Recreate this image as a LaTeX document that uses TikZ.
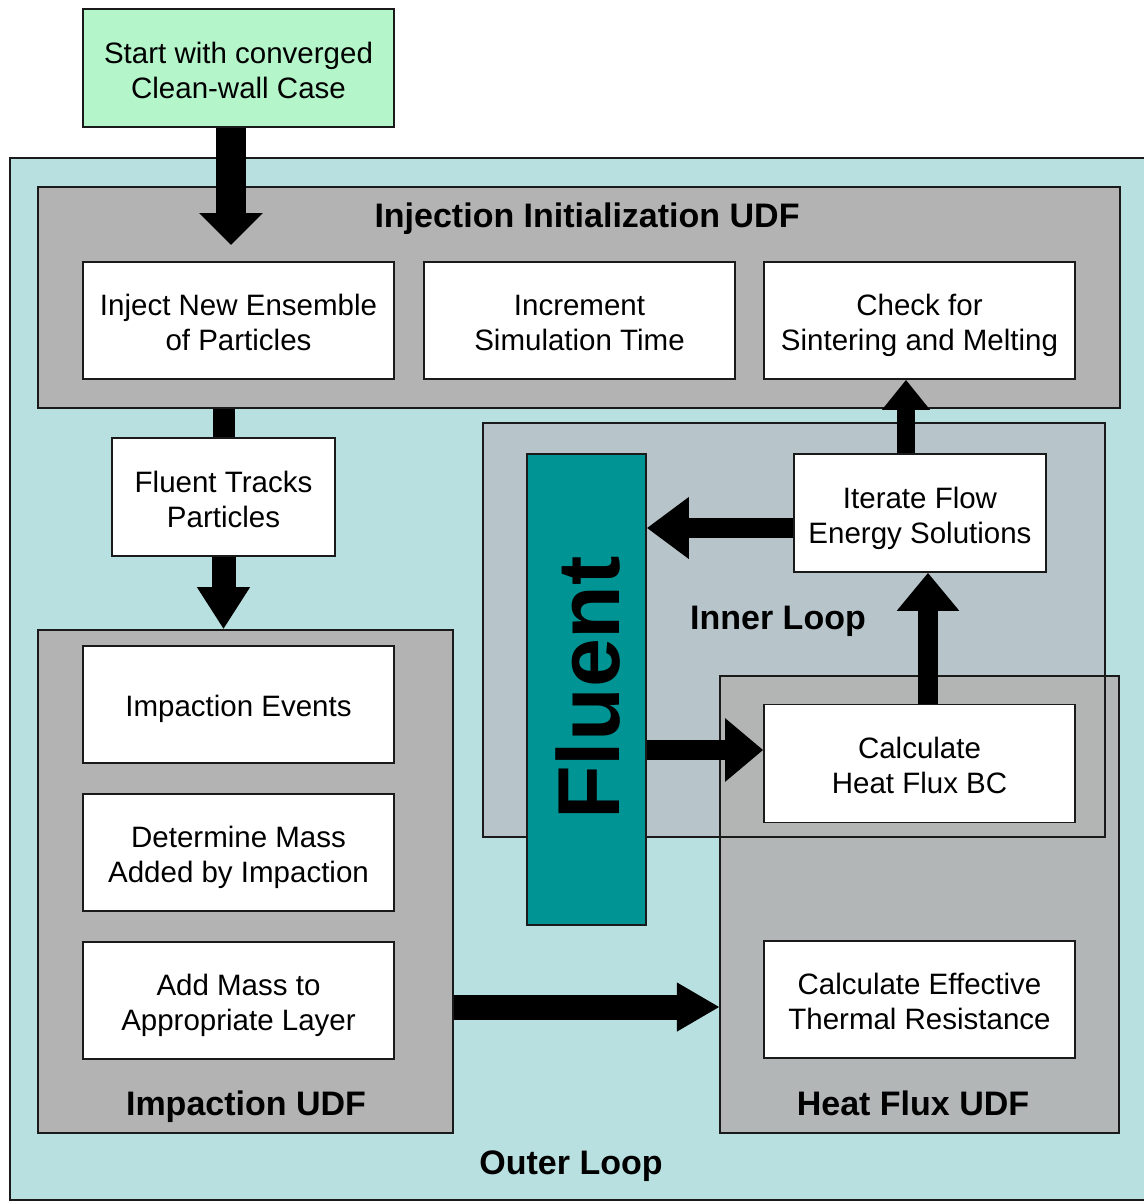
\documentclass[tikz,border=0pt]{standalone}
\usepackage{fontspec}
\setmainfont{Liberation Sans}
\usetikzlibrary{arrows.meta}
\definecolor{outerc}{HTML}{B9E0E0}
\definecolor{grayc}{HTML}{B3B3B3}
\definecolor{innerc}{HTML}{B7C5CB}
\definecolor{tealc}{HTML}{009494}
\definecolor{greenc}{HTML}{B4F5CA}
\definecolor{edgec}{HTML}{1A1A1A}
\newcommand\mybody{\fontsize{29.5}{35}\selectfont}
\newcommand\mytitle{\fontsize{34}{40}\selectfont\bfseries}
\newcommand\twolines[2]{\begin{tabular}{@{}c@{}}\rule{0pt}{35.5pt}#1\\#2\end{tabular}}
\newcommand\oneline[1]{\begin{tabular}{@{}c@{}}\rule{0pt}{34.5pt}#1\end{tabular}}
\begin{document}
\begin{tikzpicture}[x=1pt,y=-1pt,
  wbox/.style={draw=edgec,line width=1.6pt,fill=white,inner sep=0pt,font=\mybody},
  cont/.style={draw=edgec,line width=1.6pt,inner sep=0pt},
  fillonly/.style={draw=none,inner sep=0pt},
  ttl/.style={font=\mytitle,inner sep=0pt},
  blk/.style={draw=black,line width=#1}]
\useasboundingbox (0,0) rectangle (1144,1203);
\clip (0,0) rectangle (1144,1203);
\fill[white] (0,0) rectangle (1144,1203);

% outer loop
\node[cont,fill=outerc,minimum width=1150pt,minimum height=1042pt] (outer) at (585,679) {};

% start
\node[wbox,fill=greenc,minimum width=311pt,minimum height=118pt] (start) at (238.5,68)
  {\twolines{Start with converged}{Clean-wall Case}};

% injection initialization UDF
\node[cont,fill=grayc,minimum width=1082pt,minimum height=221pt] (injudf) at (579,297.5) {};
\node[ttl] (injt) at (587,219) {Injection Initialization UDF};
\node[wbox,minimum width=311pt,minimum height=117pt] (inject) at (238.5,320.5)
  {\twolines{Inject New Ensemble}{of Particles}};
\node[wbox,minimum width=311pt,minimum height=117pt] (incr) at (579.5,320.5)
  {\twolines{Increment}{Simulation Time}};
\node[wbox,minimum width=311pt,minimum height=117pt] (check) at (919.5,320.5)
  {\twolines{Check for}{Sintering and Melting}};

% inner loop and heat flux UDF (overlapping)
\node[fillonly,fill=innerc,minimum width=622pt,minimum height=414pt] (inner) at (794,630) {};
\node[fillonly,fill=grayc,fill opacity=0.92,minimum width=399pt,minimum height=457pt] (hfudf) at (919.5,904.5) {};
\draw[edgec,line width=1.6pt] (inner.north west) rectangle (inner.south east);
\draw[edgec,line width=1.6pt] (hfudf.north west) rectangle (hfudf.south east);
\node[ttl] (innert) at (778,621) {Inner Loop};
\node[ttl] (hft) at (913,1103) {Heat Flux UDF};

\node[wbox,minimum width=252pt,minimum height=118pt] (iter) at (920,513)
  {\twolines{Iterate Flow}{Energy Solutions}};
\node[wbox,minimum width=311pt,minimum height=118pt] (calcbc) at (919.5,763.5)
  {\twolines{Calculate}{Heat Flux BC}};
\node[wbox,minimum width=311pt,minimum height=117pt] (calceff) at (919.5,999.5)
  {\twolines{Calculate Effective}{Thermal Resistance}};

% fluent tracks
\node[wbox,minimum width=223pt,minimum height=118pt] (tracks) at (223.5,497)
  {\twolines{Fluent Tracks}{Particles}};

% impaction UDF
\node[cont,fill=grayc,minimum width=415pt,minimum height=503pt] (impudf) at (245.5,881.5) {};
\node[ttl] (impt) at (246,1107) {Impaction UDF};
\node[wbox,minimum width=311pt,minimum height=117pt] (events) at (238.5,704.5)
  {\oneline{Impaction Events}};
\node[wbox,minimum width=311pt,minimum height=117pt] (determ) at (238.5,852.5)
  {\twolines{Determine Mass}{Added by Impaction}};
\node[wbox,minimum width=311pt,minimum height=117pt] (addm) at (238.5,1000.5)
  {\twolines{Add Mass to}{Appropriate Layer}};

% fluent bar
\node[cont,fill=tealc,minimum width=119pt,minimum height=471pt] (fluent) at (586.5,689.5) {};
\node[rotate=90,font=\fontsize{88}{88}\selectfont\bfseries,inner sep=0pt] (fluentt) at (588,688) {Fluent};

\node[ttl] (outert) at (571,1166) {Outer Loop};

% helper coordinates
\coordinate (xa) at (231,0);
\coordinate (sa) at (231,245);
\coordinate (xc) at (928,0);
\coordinate (xd) at (906,0);
\coordinate (yi) at (0,528);
\coordinate (yf) at (0,750);
\coordinate (ym) at (0,1007);

% arrows
\draw[blk=30pt,-{Triangle[width=62pt,length=32pt]}] (start.south -| xa) -- (sa);
\draw[blk=22pt] (injudf.south -| tracks.north) -- (tracks.north);
\draw[blk=24pt,-{Triangle[width=50pt,length=42pt]}] (tracks.south) -- (tracks.south |- impudf.north);
\draw[blk=25pt,-{Triangle[width=46pt,length=43pt]}] (impudf.east |- ym) -- (hfudf.west |- ym);
\draw[blk=20pt,-{Triangle[width=61pt,length=38pt]}] (fluent.east |- yf) -- (calcbc.west |- yf);
\draw[blk=20pt,-{Triangle[width=60pt,length=38pt]}] (calcbc.north -| xc) -- (iter.south -| xc);
\draw[blk=20pt,-{Triangle[width=59pt,length=42pt]}] (iter.west |- yi) -- (fluent.east |- yi);
\draw[blk=18pt,-{Triangle[width=46pt,length=30pt]}] (iter.north -| xd) -- (check.south -| xd);
\end{tikzpicture}
\end{document}
